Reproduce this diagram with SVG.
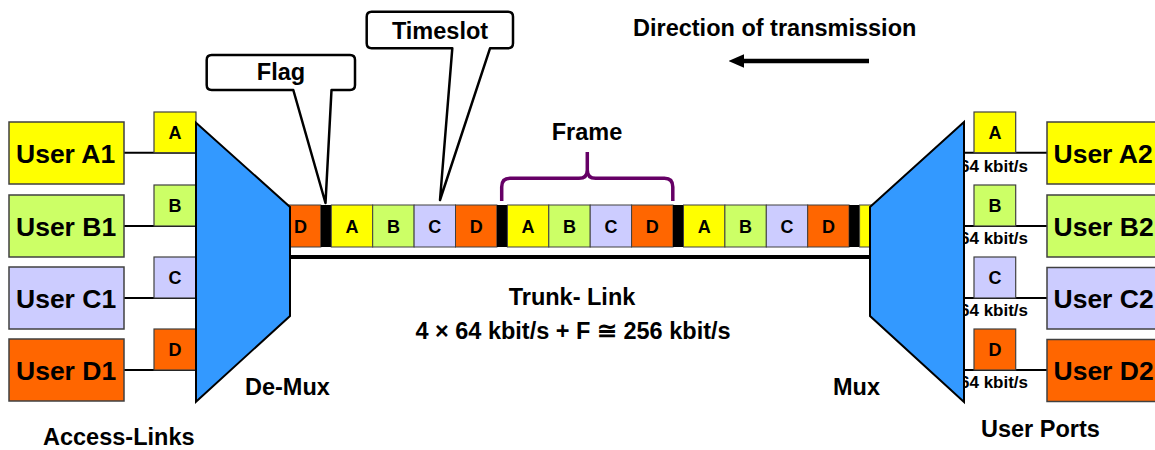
<svg xmlns="http://www.w3.org/2000/svg" width="1155" height="450" viewBox="0 0 1155 450">
  <style>
    text { font-family: "Liberation Sans", Arial, sans-serif; font-weight: bold; fill: #000; }
    .ya { fill: #FFFF00; }
    .gb { fill: #CCFF66; }
    .lc { fill: #CCCCFF; }
    .od { fill: #FF6600; }
    .cell { stroke: #404040; stroke-width: 1; }
    .flag { fill: #000; }
    .user { stroke: #404040; stroke-width: 1.5; }
    .port { stroke: #404040; stroke-width: 1.2; }
    .mux { fill: #3399FF; stroke: #000; stroke-width: 2; stroke-linejoin: miter; }
    .link { stroke: #000; stroke-width: 2; fill: none; }
    .ulabel { font-size: 26.5px; }
    .label { font-size: 23.5px; }
    .slot { font-size: 18px; text-anchor: middle; }
    .rate { font-size: 17px; }
    .callout { fill: #fff; stroke: #000; stroke-width: 2.5; stroke-linejoin: round; }
  </style>
  <defs>
    <marker id="arrowhead" markerWidth="3.4" markerHeight="3" refX="0" refY="1.5" orient="auto" markerUnits="strokeWidth">
      <path d="M0,0 L3.4,1.5 L0,3 Z" fill="#000"/>
    </marker>
  </defs>

  <rect width="1155" height="450" fill="#fff"/>

  <!-- trunk link: frame strip of timeslots and flags -->
  <g id="trunk">
    <rect class="cell od" x="279.4" y="205" width="41.4" height="42"/>
    <rect class="flag" x="320.8" y="205" width="10.5" height="42"/>
    <rect class="cell ya" x="331.3" y="205" width="41.4" height="42"/>
    <rect class="cell gb" x="372.7" y="205" width="41.4" height="42"/>
    <rect class="cell lc" x="414.1" y="205" width="41.4" height="42"/>
    <rect class="cell od" x="455.5" y="205" width="41.4" height="42"/>
    <rect class="flag" x="496.9" y="205" width="10.5" height="42"/>
    <rect class="cell ya" x="507.4" y="205" width="41.4" height="42"/>
    <rect class="cell gb" x="548.8" y="205" width="41.4" height="42"/>
    <rect class="cell lc" x="590.2" y="205" width="41.4" height="42"/>
    <rect class="cell od" x="631.6" y="205" width="41.4" height="42"/>
    <rect class="flag" x="673.0" y="205" width="10.5" height="42"/>
    <rect class="cell ya" x="683.5" y="205" width="41.4" height="42"/>
    <rect class="cell gb" x="724.9" y="205" width="41.4" height="42"/>
    <rect class="cell lc" x="766.3" y="205" width="41.4" height="42"/>
    <rect class="cell od" x="807.7" y="205" width="41.4" height="42"/>
    <rect class="flag" x="849.1" y="205" width="10.5" height="42"/>
    <rect class="cell ya" x="859.6" y="205" width="41.4" height="42"/>
    <text class="slot" x="300.5" y="233">D</text>
    <text class="slot" x="352" y="233">A</text>
    <text class="slot" x="393.4" y="233">B</text>
    <text class="slot" x="434.8" y="233">C</text>
    <text class="slot" x="476.2" y="233">D</text>
    <text class="slot" x="528.1" y="233">A</text>
    <text class="slot" x="569.5" y="233">B</text>
    <text class="slot" x="610.9" y="233">C</text>
    <text class="slot" x="652.3" y="233">D</text>
    <text class="slot" x="704.2" y="233">A</text>
    <text class="slot" x="745.6" y="233">B</text>
    <text class="slot" x="787" y="233">C</text>
    <text class="slot" x="828.4" y="233">D</text>
    <line x1="290" y1="257" x2="870" y2="257" stroke="#000" stroke-width="4"/>
    <text class="label" x="572" y="305" text-anchor="middle" font-size="24">Trunk- Link</text>
    <text class="label" x="573" y="339" text-anchor="middle" font-size="24">4 × 64 kbit/s + F ≅ 256 kbit/s</text>
  </g>

  <!-- connectors between users, ports and (de)multiplexers -->
  <g id="connectors">
    <line class="link" x1="124" y1="152.7" x2="196" y2="152.7"/>
    <line class="link" x1="124" y1="226" x2="196" y2="226"/>
    <line class="link" x1="124" y1="298" x2="196" y2="298"/>
    <line class="link" x1="124" y1="370" x2="196" y2="370"/>
    <line class="link" x1="964" y1="152.7" x2="1047" y2="152.7"/>
    <line class="link" x1="964" y1="226" x2="1047" y2="226"/>
    <line class="link" x1="964" y1="298" x2="1047" y2="298"/>
    <line class="link" x1="964" y1="370" x2="1047" y2="370"/>
  </g>

  <!-- access side users -->
  <g id="user-a1"><rect class="user ya" x="9" y="122" width="115" height="62"/><text class="ulabel" x="16" y="162.5">User A1</text></g>
  <g id="user-b1"><rect class="user gb" x="9" y="195" width="115" height="62"/><text class="ulabel" x="16" y="235.5">User B1</text></g>
  <g id="user-c1"><rect class="user lc" x="9" y="267" width="115" height="62"/><text class="ulabel" x="16" y="307.5">User C1</text></g>
  <g id="user-d1"><rect class="user od" x="9" y="339" width="115" height="62"/><text class="ulabel" x="16" y="379.5">User D1</text></g>

  <!-- access link timeslot tags -->
  <g id="port-a-in"><rect class="port ya" x="154" y="112" width="42" height="40.7"/><text class="slot" x="175" y="139">A</text></g>
  <g id="port-b-in"><rect class="port gb" x="154" y="185" width="42" height="41"/><text class="slot" x="175" y="212">B</text></g>
  <g id="port-c-in"><rect class="port lc" x="154" y="257" width="42" height="41"/><text class="slot" x="175" y="284">C</text></g>
  <g id="port-d-in"><rect class="port od" x="154" y="329" width="42" height="41"/><text class="slot" x="175" y="356">D</text></g>

  <!-- user port tags with rates -->
  <g id="port-a-out"><text class="rate" x="960" y="171.7">64 kbit/s</text><rect class="port ya" x="974" y="112" width="41.7" height="40.7"/><text class="slot" x="995" y="139">A</text></g>
  <g id="port-b-out"><text class="rate" x="960" y="243.5">64 kbit/s</text><rect class="port gb" x="974" y="185" width="41.7" height="41"/><text class="slot" x="995" y="212">B</text></g>
  <g id="port-c-out"><text class="rate" x="960" y="315.7">64 kbit/s</text><rect class="port lc" x="974" y="257" width="41.7" height="41"/><text class="slot" x="995" y="284">C</text></g>
  <g id="port-d-out"><text class="rate" x="960" y="388.3">64 kbit/s</text><rect class="port od" x="974" y="329" width="41.7" height="41"/><text class="slot" x="995" y="356">D</text></g>

  <!-- remote users -->
  <g id="user-a2"><rect class="user ya" x="1047" y="122" width="120" height="62"/><text class="ulabel" x="1053.5" y="162.5">User A2</text></g>
  <g id="user-b2"><rect class="user gb" x="1047" y="195" width="120" height="62"/><text class="ulabel" x="1053.5" y="235.5">User B2</text></g>
  <g id="user-c2"><rect class="user lc" x="1047" y="267.5" width="120" height="61.5"/><text class="ulabel" x="1053.5" y="307.5">User C2</text></g>
  <g id="user-d2"><rect class="user od" x="1047" y="339.5" width="120" height="62"/><text class="ulabel" x="1053.5" y="379.5">User D2</text></g>

  <!-- demultiplexer -->
  <g id="demux">
    <polygon class="mux" points="196,122.7 290,207 290,316 196,401.7"/>
    <text class="label" x="245" y="395">De-Mux</text>
  </g>

  <!-- multiplexer -->
  <g id="mux">
    <polygon class="mux" points="870,207 964,122 964,402 870,316"/>
    <text class="label" x="833" y="395">Mux</text>
  </g>

  <!-- callouts -->
  <g id="flag-callout">
    <path class="callout" d="M211.7,55 H350 Q355,55 355,60 V85 Q355,90 350,90 H331.5 L325.5,203 L293.3,90 H211.7 Q206.7,90 206.7,85 V60 Q206.7,55 211.7,55 Z"/>
    <text class="label" x="281" y="79.5" text-anchor="middle">Flag</text>
  </g>
  <g id="timeslot-callout">
    <path class="callout" d="M371.7,11.7 H508 Q513,11.7 513,16.7 V43.3 Q513,48.3 508,48.3 H490 L440,200 L452.3,48.3 H371.7 Q366.7,48.3 366.7,43.3 V16.7 Q366.7,11.7 371.7,11.7 Z"/>
    <text class="label" x="440" y="39" text-anchor="middle">Timeslot</text>
  </g>

  <!-- frame brace -->
  <g id="frame">
    <path d="M501.7,201 V187 Q501.7,178.3 510,178.3 H579 Q587.3,178.3 587.3,170 V152 M587.3,170 Q587.3,178.3 595.6,178.3 H664.5 Q672.8,178.3 672.8,187 V201" fill="none" stroke="#660066" stroke-width="3.5"/>
    <text class="label" x="587" y="139.5" text-anchor="middle">Frame</text>
  </g>

  <!-- transmission direction -->
  <g id="direction">
    <text class="label" x="633" y="36" font-size="24">Direction of transmission</text>
    <line x1="869" y1="61" x2="744" y2="61" stroke="#000" stroke-width="4.5" marker-end="url(#arrowhead)"/>
  </g>

  <g id="captions">
    <text class="label" x="43" y="445">Access-Links</text>
    <text class="label" x="981" y="437">User Ports</text>
  </g>
</svg>
